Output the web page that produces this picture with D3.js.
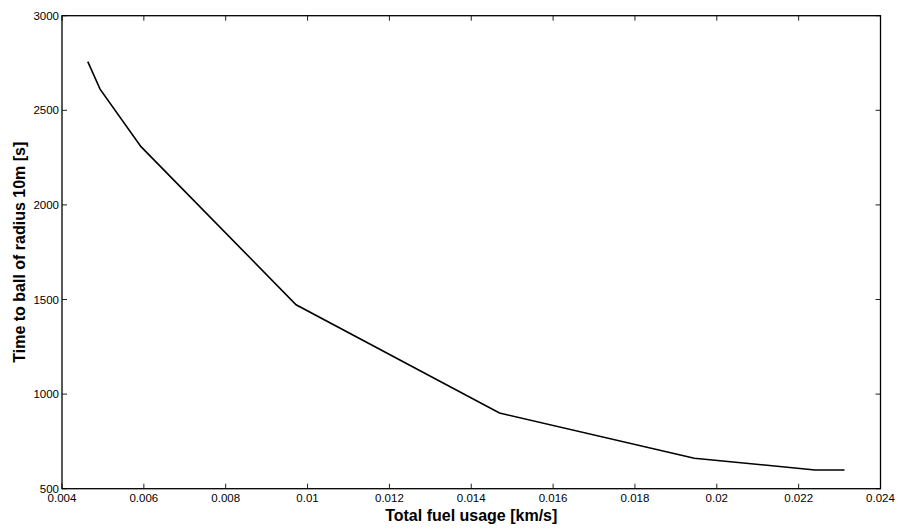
<!DOCTYPE html>
<html>
<head>
<meta charset="utf-8">
<script src="https://cdn.jsdelivr.net/npm/d3@7"></script>
<style>
body { margin: 0; background: #fff; }
text { font-family: "Liberation Sans", Arial, sans-serif; }
</style>
</head>
<body>
<script>
// values
var fuel = [0.00463, 0.00493, 0.00593, 0.00972, 0.01469, 0.01945, 0.02240, 0.02312];
var timeToBall = [2757, 2612, 2308, 1472, 900, 661, 599, 599];
var xTicks = [0.004, 0.006, 0.008, 0.01, 0.012, 0.014, 0.016, 0.018, 0.02, 0.022, 0.024];
var yTicks = [500, 1000, 1500, 2000, 2500, 3000];

var W = 898, H = 529;
var plotL = 62, plotR = 880.5, plotT = 15.7, plotB = 488.7;

var svg = d3.select("body").append("svg")
    .attr("width", W)
    .attr("height", H);

var x = d3.scaleLinear().domain([0.004, 0.024]).range([plotL, plotR]);
var y = d3.scaleLinear().domain([500, 3000]).range([plotB, plotT]);

var tickLen = 5;
var g = svg.append("g");

// ticks, mirrored on all four sides
xTicks.forEach(function(t){
    g.append("line").attr("x1", x(t)).attr("x2", x(t))
        .attr("y1", plotB).attr("y2", plotB - tickLen)
        .attr("stroke", "#222").attr("stroke-width", 1);
    g.append("line").attr("x1", x(t)).attr("x2", x(t))
        .attr("y1", plotT).attr("y2", plotT + tickLen)
        .attr("stroke", "#222").attr("stroke-width", 1);
    g.append("text").attr("x", x(t)).attr("y", plotB + 13)
        .attr("text-anchor", "middle")
        .attr("font-size", 11.5)
        .text(String(t));
});
yTicks.forEach(function(t){
    g.append("line").attr("x1", plotL).attr("x2", plotL + tickLen)
        .attr("y1", y(t)).attr("y2", y(t))
        .attr("stroke", "#222").attr("stroke-width", 1);
    g.append("line").attr("x1", plotR).attr("x2", plotR - tickLen)
        .attr("y1", y(t)).attr("y2", y(t))
        .attr("stroke", "#222").attr("stroke-width", 1);
    g.append("text").attr("x", plotL - 3).attr("y", y(t) + 4)
        .attr("text-anchor", "end")
        .attr("font-size", 11.5)
        .text(String(t));
});

// box
svg.append("rect")
    .attr("x", plotL).attr("y", plotT)
    .attr("width", plotR - plotL).attr("height", plotB - plotT)
    .attr("fill", "none")
    .attr("stroke", "#000")
    .attr("stroke-width", 1.3);

var line = d3.line()
    .x(function(d, i){ return x(fuel[i]); })
    .y(function(d){ return y(d); });

svg.append("path")
    .datum(timeToBall)
    .attr("d", line)
    .attr("fill", "none")
    .attr("stroke", "#000")
    .attr("stroke-width", 1.6);

svg.append("text")
    .attr("x", (plotL + plotR) / 2)
    .attr("y", 521)
    .attr("text-anchor", "middle")
    .attr("font-size", 16)
    .attr("font-weight", "bold")
    .text("Total fuel usage [km/s]");

svg.append("text")
    .attr("transform", "translate(25," + ((plotT + plotB) / 2) + ") rotate(-90)")
    .attr("text-anchor", "middle")
    .attr("font-size", 16)
    .attr("font-weight", "bold")
    .text("Time to ball of radius 10m [s]");
</script>
</body>
</html>
